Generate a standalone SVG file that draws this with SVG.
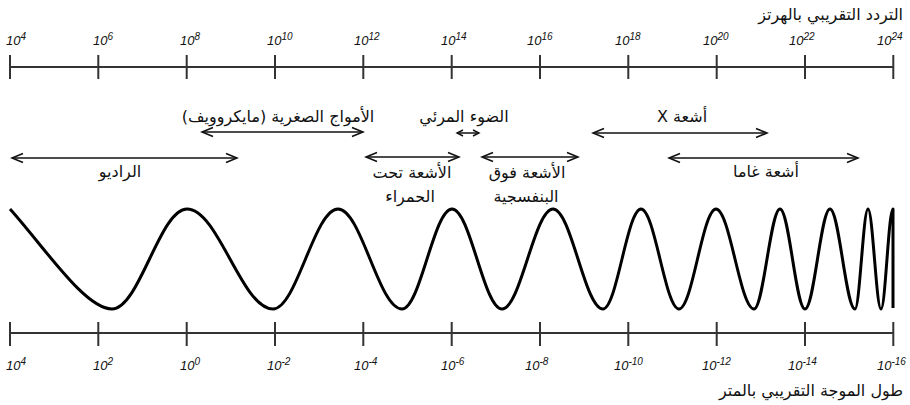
<svg xmlns="http://www.w3.org/2000/svg" width="910" height="405" viewBox="0 0 910 405">
<style>
.axis{stroke:#333;stroke-width:2;fill:none}
.num{font-family:"Liberation Sans",Arial,sans-serif;font-style:italic;font-size:13px;fill:#111}
.sup{font-size:10px}
.ar{font-family:"DejaVu Sans","Liberation Sans",sans-serif;font-size:16px;fill:#111}
.arr{stroke:#111;stroke-width:1.5;fill:none}
.wave{stroke:#000;stroke-width:3;fill:none;stroke-linejoin:round;stroke-linecap:butt}
</style>
<defs>
<marker id="ah" markerUnits="userSpaceOnUse" viewBox="-13 -7 15 14" markerWidth="15" markerHeight="14" refX="0" refY="0" orient="auto-start-reverse">
<path d="M-11,-4.5 L0,0 L-11,4.5" fill="none" stroke="#111" stroke-width="1.6"/>
</marker>
<marker id="ahs" markerUnits="userSpaceOnUse" viewBox="-8 -5 10 10" markerWidth="10" markerHeight="10" refX="0" refY="0" orient="auto-start-reverse">
<path d="M-6,-3 L0,0 L-6,3" fill="none" stroke="#111" stroke-width="1.4"/>
</marker>
</defs>
<rect width="910" height="405" fill="#fff"/>

<g id="freq-axis">
<line class="axis" x1="10" y1="67" x2="893.3" y2="67"/>
<path class="axis" d="M10,55V79M98.3,55V79M186.7,55V79M275,55V79M363.3,55V79M451.7,55V79M540,55V79M628.3,55V79M716.7,55V79M805,55V79M893.3,55V79"/>
<text class="num" x="6" y="45">10<tspan class="sup" dy="-5">4</tspan></text>
<text class="num" x="93" y="45">10<tspan class="sup" dy="-5">6</tspan></text>
<text class="num" x="180" y="45">10<tspan class="sup" dy="-5">8</tspan></text>
<text class="num" x="267" y="45">10<tspan class="sup" dy="-5">10</tspan></text>
<text class="num" x="354" y="45">10<tspan class="sup" dy="-5">12</tspan></text>
<text class="num" x="441" y="45">10<tspan class="sup" dy="-5">14</tspan></text>
<text class="num" x="527" y="45">10<tspan class="sup" dy="-5">16</tspan></text>
<text class="num" x="615" y="45">10<tspan class="sup" dy="-5">18</tspan></text>
<text class="num" x="703" y="45">10<tspan class="sup" dy="-5">20</tspan></text>
<text class="num" x="789" y="45">10<tspan class="sup" dy="-5">22</tspan></text>
<text class="num" x="877" y="45">10<tspan class="sup" dy="-5">24</tspan></text>
<text class="ar" x="903" y="20" text-anchor="end">التردد التقريبي بالهرتز</text>
</g>

<g id="connectors">
<line class="arr" x1="202" y1="132" x2="363" y2="132" marker-start="url(#ah)" marker-end="url(#ah)"/>
<line class="arr" x1="12" y1="158" x2="237" y2="158" marker-start="url(#ah)" marker-end="url(#ah)"/>
<line class="arr" x1="366" y1="157" x2="459" y2="157" marker-start="url(#ah)" marker-end="url(#ah)"/>
<line class="arr" x1="457" y1="133" x2="479" y2="133" marker-start="url(#ahs)" marker-end="url(#ahs)"/>
<line class="arr" x1="482" y1="157" x2="578" y2="157" marker-start="url(#ah)" marker-end="url(#ah)"/>
<line class="arr" x1="593" y1="133" x2="767" y2="133" marker-start="url(#ah)" marker-end="url(#ah)"/>
<line class="arr" x1="669" y1="158" x2="858" y2="158" marker-start="url(#ah)" marker-end="url(#ah)"/>
</g>

<g id="microwave"><text class="ar" x="278" y="122" text-anchor="middle" direction="rtl">الأمواج الصغرية (مايكروويف)</text></g>
<g id="visible"><text class="ar" x="464" y="122" text-anchor="middle" direction="rtl">الضوء المرئي</text></g>
<g id="xray"><text class="ar" x="682" y="122" text-anchor="middle" direction="rtl">أشعة X</text></g>
<g id="radio"><text class="ar" x="120" y="177" text-anchor="middle" direction="rtl">الراديو</text></g>
<g id="infrared">
<text class="ar" x="412" y="178" text-anchor="middle" direction="rtl">الأشعة تحت</text>
<text class="ar" x="410" y="202" text-anchor="middle" direction="rtl">الحمراء</text>
</g>
<g id="ultraviolet">
<text class="ar" x="527" y="178" text-anchor="middle" direction="rtl">الأشعة فوق</text>
<text class="ar" x="526" y="202" text-anchor="middle" direction="rtl">البنفسجية</text>
</g>
<g id="gamma"><text class="ar" x="766" y="177" text-anchor="middle" direction="rtl">أشعة غاما</text></g>

<g id="wave">
<path class="wave" d="M10,209 C45,248 85,309 112,309 C139.3,309 159.7,209 187,209 C218.3,209 241.7,309 273,309 C296.6,309 314.4,209 338,209 C361.3,209 378.7,309 402,309 C420.2,309 433.8,209 452,209 C470.2,209 483.8,309 502,309 C520.5,309 534.5,209 553,209 C571.2,209 584.8,309 603,309 C616.8,309 627.2,209 641,209 C654.8,209 665.2,309 679,309 C692.4,309 702.6,209 716,209 C729.8,209 740.2,309 754,309 C763.4,309 770.6,209 780,209 C789.1,209 795.9,309 805,309 C814.1,309 820.9,209 830,209 C839.1,209 845.9,309 855,309 C859.7,309 863.3,209 868,209 C872.7,209 876.3,309 881,309 C885.4,309 888.6,209 893,209 L893,308"/>
</g>

<g id="wavelength-axis">
<line class="axis" x1="10" y1="333" x2="893.3" y2="333"/>
<path class="axis" d="M10,322V346M98.3,322V346M186.7,322V346M275,322V346M363.3,322V346M451.7,322V346M540,322V346M628.3,322V346M716.7,322V346M805,322V346M893.3,322V346"/>
<text class="num" x="6" y="370">10<tspan class="sup" dy="-5">4</tspan></text>
<text class="num" x="93" y="370">10<tspan class="sup" dy="-5">2</tspan></text>
<text class="num" x="180" y="370">10<tspan class="sup" dy="-5">0</tspan></text>
<text class="num" x="267" y="370">10<tspan class="sup" dy="-5">-2</tspan></text>
<text class="num" x="354" y="370">10<tspan class="sup" dy="-5">-4</tspan></text>
<text class="num" x="441" y="370">10<tspan class="sup" dy="-5">-6</tspan></text>
<text class="num" x="525" y="370">10<tspan class="sup" dy="-5">-8</tspan></text>
<text class="num" x="614" y="370">10<tspan class="sup" dy="-5">-10</tspan></text>
<text class="num" x="702" y="370">10<tspan class="sup" dy="-5">-12</tspan></text>
<text class="num" x="788" y="370">10<tspan class="sup" dy="-5">-14</tspan></text>
<text class="num" x="877" y="370">10<tspan class="sup" dy="-5">-16</tspan></text>
<text class="ar" x="903" y="396" text-anchor="end">طول الموجة التقريبي بالمتر</text>
</g>
</svg>
